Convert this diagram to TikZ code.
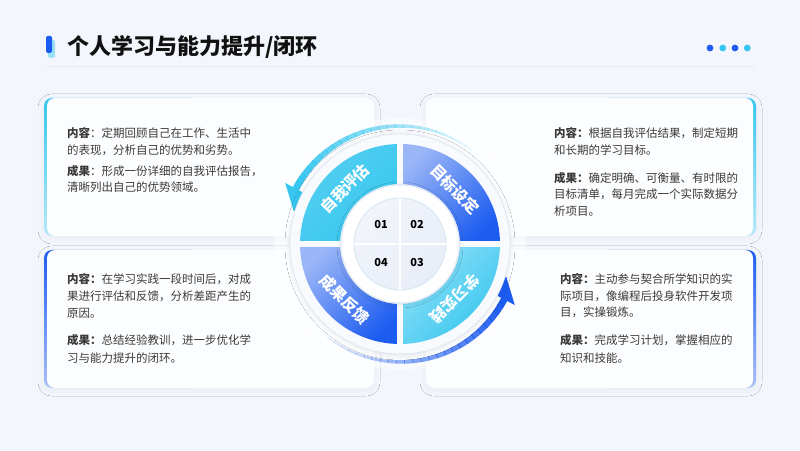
\documentclass[tikz,border=0pt]{standalone}
\usepackage{fontspec}
\setmainfont{Noto Sans CJK SC}
\usetikzlibrary{shadows.blur}
\definecolor{bg}{HTML}{F3F6FC}
\definecolor{cardw}{HTML}{FCFDFF}
\definecolor{cyanA}{HTML}{36C6EF}
\definecolor{cyanL}{HTML}{B5E9F8}
\definecolor{blueA}{HTML}{1C5CF0}
\definecolor{blueL}{HTML}{A9C0F8}
\definecolor{txt}{HTML}{3A3A3A}
\definecolor{hd}{HTML}{111111}
\definecolor{rule}{HTML}{E3EAF9}
\definecolor{ringw}{HTML}{F8FAFE}
\definecolor{ringb}{HTML}{E0E8F6}
\definecolor{innerq}{HTML}{E8EDF7}
\definecolor{innerb}{HTML}{D2E7F3}
\begin{document}
\begin{tikzpicture}[x=1pt,y=1pt,
  body/.style={anchor=west, inner sep=0pt, text=txt, font=\fontsize{11.5pt}{17pt}\selectfont},
  cardshadow/.style={fill=bg, rounded corners=8pt, blur shadow={shadow blur steps=10, shadow xshift=0pt, shadow yshift=-2pt, shadow opacity=5, shadow blur radius=6pt}},
  cardface/.style={fill=cardw, rounded corners=8pt},
  seglabel/.style={text=white, inner sep=0pt, font=\fontsize{15.5pt}{15.5pt}\selectfont\bfseries},
  numlabel/.style={text=black, inner sep=0pt, font=\fontsize{11pt}{11pt}\selectfont\bfseries},
  dotc/.style={fill=#1}
]
\useasboundingbox (0,0) rectangle (800,450);
\fill[bg] (0,0) rectangle (800,450);

% title
\fill[cyanL!80!cyanA, rounded corners=1.5pt] (48,392) rectangle (55,410);
\fill[blueA, rounded corners=1.5pt] (46,397) rectangle (52,414);
\node[anchor=west, inner sep=0pt, text=hd, font=\fontsize{22pt}{22pt}\selectfont\bfseries] (title) at (67,403) {个人学习与能力提升/闭环};
\draw[rule, line width=1pt] (46,383) -- (755,383);
\fill[dotc=blueA] (710,402) circle (3.4);
\fill[dotc=cyanA] (722.7,402) circle (3.4);
\fill[dotc=blueA] (735,402) circle (3.4);
\fill[dotc=cyanA] (747.3,402) circle (3.4);

% cards
% TL
\path[cardshadow] (44,214) rectangle (374,352);
\shade[top color=cyanA, bottom color=cyanL, rounded corners=8pt] (44,214) rectangle (200,352);
\fill[cardface] (47,214) rectangle (374,352);
% TR
\path[cardshadow] (426,214) rectangle (756,352);
\shade[top color=cyanA, bottom color=cyanL, rounded corners=8pt] (600,214) rectangle (756,352);
\fill[cardface] (426,214) rectangle (753,352);
% BL
\path[cardshadow] (44,62) rectangle (374,200);
\shade[top color=blueA, bottom color=blueL, rounded corners=8pt] (44,62) rectangle (200,200);
\fill[cardface] (47,62) rectangle (374,200);
% BR
\path[cardshadow] (426,62) rectangle (756,200);
\shade[top color=blueA, bottom color=blueL, rounded corners=8pt] (600,62) rectangle (756,200);
\fill[cardface] (426,62) rectangle (753,200);

% texts TL
\node[body] (tl1) at (67,317) {\textbf{内容}：定期回顾自己在工作、生活中};
\node[body] (tl2) at (67,300) {的表现，分析自己的优势和劣势。};
\node[body] (tl3) at (67,279) {\textbf{成果}：形成一份详细的自我评估报告，};
\node[body] (tl4) at (67,262.7) {清晰列出自己的优势领域。};
% TR
\node[body] (tr1) at (554,317) {\textbf{内容：}根据自我评估结果，制定短期};
\node[body] (tr2) at (554,300) {和长期的学习目标。};
\node[body] (tr3) at (554,272.3) {\textbf{成果：}确定明确、可衡量、有时限的};
\node[body] (tr4) at (554,255.7) {目标清单，每月完成一个实际数据分};
\node[body] (tr5) at (554,239.3) {析项目。};
% BL
\node[body] (bl1) at (67,170.7) {\textbf{内容：}在学习实践一段时间后，对成};
\node[body] (bl2) at (67,153.3) {果进行评估和反馈，分析差距产生的};
\node[body] (bl3) at (67,136.7) {原因。};
\node[body] (bl4) at (67,110) {\textbf{成果：}总结经验教训，进一步优化学};
\node[body] (bl5) at (67,92.3) {习与能力提升的闭环。};
% BR
\node[body] (br1) at (560,170.7) {\textbf{内容：}主动参与契合所学知识的实};
\node[body] (br2) at (560,154) {际项目，像编程后投身软件开发项};
\node[body] (br3) at (560,137.3) {目，实操锻炼。};
\node[body] (br4) at (560,110) {\textbf{成果：}完成学习计划，掌握相应的};
\node[body] (br5) at (560,92.3) {知识和技能。};

% central cycle
\begin{scope}[shift={(400,206)}]
  \fill[white, opacity=0.5] (0,0) circle (126);
  % arcs
  \foreach \i in {0,...,24} {
    \pgfmathsetmacro\a{52+4*\i}
    \pgfmathsetmacro\w{1.5+0.22*\i}
    \pgfmathsetmacro\o{0.12+0.037*\i}
    \draw[cyanA, line width=\w pt, opacity=\o] (\a:118) arc[start angle=\a, end angle=\a+4.4, radius=118];
    \pgfmathsetmacro\b{232+4*\i}
    \draw[blueA, line width=\w pt, opacity=\o] (\b:118) arc[start angle=\b, end angle=\b+4.4, radius=118];
  }
  \fill[cyanA] (152:130) -- (152:107) -- (163:111) -- cycle;
  \fill[blueA] (332:130) -- (332:107) -- (343:111) -- cycle;
  % white ring
  \fill[ringw, blur shadow={shadow blur steps=8, shadow xshift=0pt, shadow yshift=-1pt, shadow opacity=10, shadow blur radius=5pt}] (0,0) circle (110);
  \draw[ringb, line width=0.8pt] (0,0) circle (110);
  % sectors
  \shade[top color=cyanA!85!white, bottom color=cyanA, shading angle=45]
    (90:60) arc[start angle=90, end angle=180, radius=60] -- (180:100) arc[start angle=180, end angle=90, radius=100] -- cycle;
  \shade[top color=blueL!90!blueA, bottom color=blueA, shading angle=45]
    (0:60) arc[start angle=0, end angle=90, radius=60] -- (90:100) arc[start angle=90, end angle=0, radius=100] -- cycle;
  \shade[top color=blueL!90!blueA, bottom color=blueA, shading angle=45]
    (180:60) arc[start angle=180, end angle=270, radius=60] -- (270:100) arc[start angle=270, end angle=180, radius=100] -- cycle;
  \shade[top color=cyanA!55!white, bottom color=cyanA, shading angle=45]
    (270:60) arc[start angle=270, end angle=360, radius=60] -- (0:100) arc[start angle=0, end angle=-90, radius=100] -- cycle;
  \draw[ringw, line width=6pt] (-101,0) -- (101,0);
  \draw[ringw, line width=6pt] (0,-101) -- (0,101);
  % inner disk
  \fill[white, blur shadow={shadow blur steps=6, shadow xshift=0pt, shadow yshift=-1pt, shadow opacity=12, shadow blur radius=4pt}] (0,0) circle (59);
  \draw[ringb, line width=1pt] (0,0) circle (59);
  \shade[top color=innerq!60!white, bottom color=innerq, shading angle=45] (0,0) circle (46);
  \draw[innerb, line width=0.8pt] (0,0) circle (46);
  \draw[white, line width=2.5pt] (-46,0) -- (46,0);
  \draw[white, line width=2.5pt] (0,-46) -- (0,46);
  % labels
  \node[seglabel, rotate=45] (s1) at (135:78) {自我评估};
  \node[seglabel, rotate=-45] (s2) at (45:78) {目标设定};
  \node[seglabel, rotate=-135] (s3) at (-45:78) {学习实践};
  \node[seglabel, rotate=-45] (s4) at (-135:78) {成果反馈};
  \node[numlabel] (n1) at (-19,19) {01};
  \node[numlabel] (n2) at (17,19) {02};
  \node[numlabel] (n3) at (17,-18.5) {03};
  \node[numlabel] (n4) at (-19,-18.5) {04};
\end{scope}
\end{tikzpicture}
\end{document}
